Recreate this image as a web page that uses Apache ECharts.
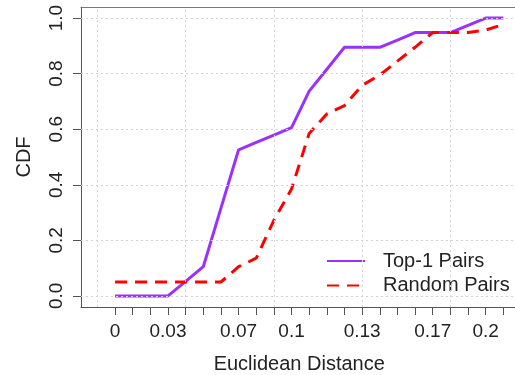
<!DOCTYPE html>
<html>
<head>
<meta charset="utf-8">
<script src="https://cdn.jsdelivr.net/npm/echarts@6/dist/echarts.min.js"></script>
<style>
html,body{margin:0;padding:0;background:#fff;}
#chart{width:515px;height:375px;}
</style>
</head>
<body>
<div id="chart"></div>
<script>
// x positions are the tick indices of the distance axis (0..22)
var xIndex = [0,1,2,3,4,5,6,7,8,9,10,11,12,13,14,15,16,17,18,19,20,21,22];
var top1Pairs = [0,0,0,0,0.052,0.105,0.316,0.526,0.553,0.579,0.606,0.737,0.816,0.895,0.895,0.895,0.921,0.948,0.948,0.948,0.974,1,1];
var randomPairs = [0.05,0.05,0.05,0.05,0.05,0.05,0.05,0.105,0.136,0.272,0.385,0.585,0.655,0.685,0.758,0.795,0.845,0.895,0.948,0.948,0.948,0.957,0.977];
var xTickLabelIndex = [0,3,7,10,14,18,21];
var xTickLabels = ['0','0.03','0.07','0.1','0.13','0.17','0.2'];
var yTicks = [0,0.2,0.4,0.6,0.8,1.0];
var seriesNames = ['Top-1 Pairs','Random Pairs'];

var FONT = '"Liberation Sans", Arial, Helvetica, sans-serif';
var gridX = [-1,4,9,14,19];
var X_MIN = -1.93, X_MAX = 23.2;

function pairs(xs, ys){ return xs.map(function(x,i){ return [x, ys[i]]; }); }

var chart = echarts.init(document.getElementById('chart'), null, {renderer:'canvas'});
var gridLines = gridX.map(function(v){ return {xAxis: v}; }).concat(yTicks.map(function(v){ return {yAxis: v}; }));

chart.setOption({
  animation: false,
  backgroundColor: '#ffffff',
  textStyle: {fontFamily: FONT},
  grid: {left: 81, top: 7, width: 443.5, height: 300, show: false, containLabel: false, outerBoundsMode: 'none'},
  legend: {
    data: seriesNames,
    orient: 'vertical',
    left: 326,
    top: 251,
    padding: 0,
    itemWidth: 38,
    itemHeight: 14,
    itemGap: 4.5,
    itemStyle: {opacity: 0},
    textStyle: {fontFamily: FONT, fontSize: 20, color: '#222', lineHeight: 20, padding: [0,0,0,13]}
  },
  xAxis: [{
    type: 'value',
    min: X_MIN,
    max: X_MAX,
    name: 'Euclidean Distance',
    nameLocation: 'middle',
    nameGap: 47,
    nameTextStyle: {fontFamily: FONT, fontSize: 20, color: '#222', padding: [0,7,0,0]},
    axisLine: {show: true, onZero: false, lineStyle: {color: '#555', width: 1}},
    axisTick: {show: true, customValues: xIndex, length: 8, lineStyle: {color: '#555'}},
    axisLabel: {
      customValues: xTickLabelIndex,
      margin: 15,
      fontFamily: FONT, fontSize: 19, color: '#222',
      formatter: function(v){ var k = xTickLabelIndex.indexOf(Math.round(v)); return k >= 0 ? xTickLabels[k] : ''; }
    },
    splitLine: {show: false}
  }, {
    type: 'value',
    position: 'top',
    min: X_MIN,
    max: X_MAX,
    axisLine: {show: true, onZero: false, lineStyle: {color: '#777', width: 1}},
    axisTick: {show: false},
    axisLabel: {show: false},
    splitLine: {show: false}
  }],
  yAxis: {
    type: 'value',
    min: -0.04,
    max: 1.04,
    name: 'CDF',
    nameLocation: 'middle',
    nameRotate: 90,
    nameGap: 47,
    nameTextStyle: {fontFamily: FONT, fontSize: 20, color: '#222'},
    axisLine: {show: true, onZero: false, lineStyle: {color: '#555', width: 1}},
    axisTick: {show: true, customValues: yTicks, length: 8, lineStyle: {color: '#555'}},
    axisLabel: {
      customValues: yTicks,
      rotate: 90,
      margin: 15,
      fontFamily: FONT, fontSize: 19, color: '#222',
      formatter: function(v){ return v.toFixed(1); }
    },
    splitLine: {show: false}
  },
  series: [
    {
      name: 'gridlines',
      type: 'line',
      xAxisIndex: 0,
      data: [],
      silent: true,
      z: 1,
      markLine: {
        silent: true,
        symbol: ['none','none'],
        label: {show: false},
        animation: false,
        lineStyle: {color: '#d3d3d3', type: [2,3], width: 1},
        emphasis: {disabled: true},
        data: gridLines
      }
    },
    {
      name: seriesNames[0],
      type: 'line',
      xAxisIndex: 0,
      data: pairs(xIndex, top1Pairs),
      symbol: 'none',
      z: 3,
      color: '#9B30FF',
      lineStyle: {color: '#9B30FF', width: 3}
    },
    {
      name: seriesNames[1],
      type: 'line',
      xAxisIndex: 0,
      data: pairs(xIndex, randomPairs),
      symbol: 'none',
      z: 4,
      color: '#FF0000',
      lineStyle: {color: '#FF0000', width: 3, type: [12, 8]}
    }
  ]
});
</script>
</body>
</html>
